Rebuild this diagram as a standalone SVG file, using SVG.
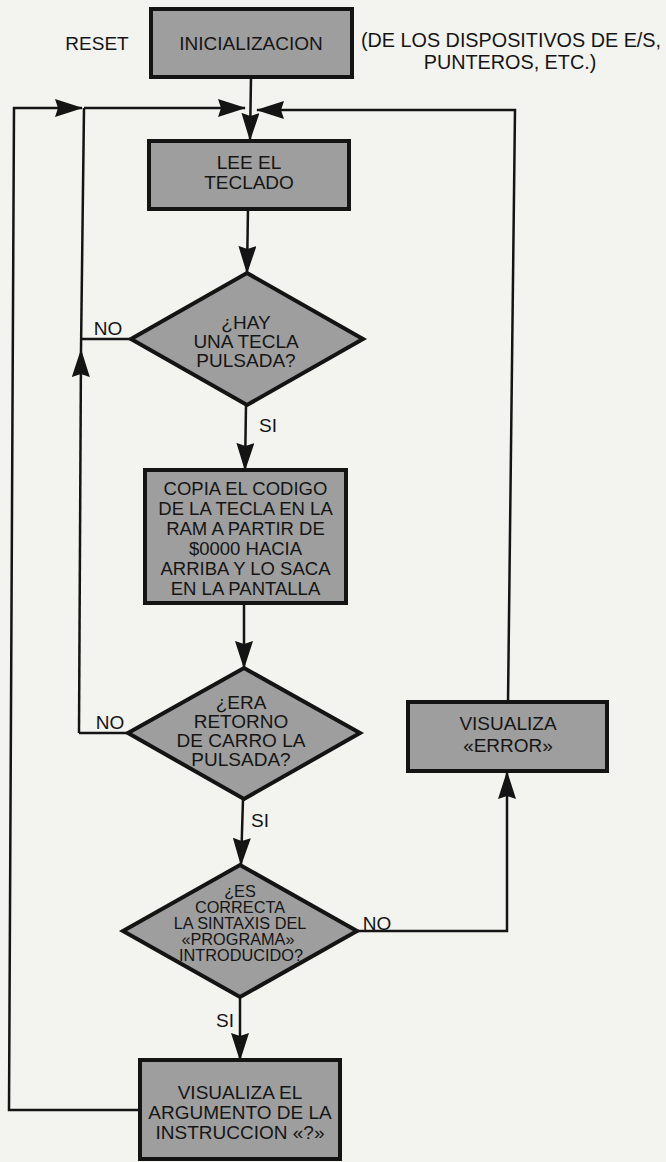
<svg xmlns="http://www.w3.org/2000/svg" width="666" height="1162" viewBox="0 0 666 1162">
<style>
.box{fill:#9e9e9e;stroke:#141414;stroke-width:4}
.t{font-family:"Liberation Sans",Arial,sans-serif;font-size:19px;fill:#151515;text-anchor:middle}
.m{font-size:18.5px}
.s{font-size:16.3px}
.c{fill:none;stroke:#141414;stroke-width:2.5}
.a{marker-end:url(#arr)}
</style>
<defs>
<marker id="arr" viewBox="0 0 28 18" refX="27" refY="9" markerWidth="28" markerHeight="18" markerUnits="userSpaceOnUse" orient="auto">
<path d="M0,0 L28,9 L0,18 L3,9 z" fill="#141414"/>
</marker>
</defs>
<rect width="666" height="1162" fill="#f3f3f0"/>

<g id="connectors">
<path class="c a" d="M251,77 L250,140"/>
<path class="c a" d="M140,1110 L9,1110 L14,108 L82,108"/>
<path class="c a" d="M84,108 L245,108"/>
<path class="c a" d="M508,702 L515,110 L257,110"/>
<path class="c a" d="M79,733 L81,350"/>
<path class="c" d="M81,350 L84,108"/>
<path class="c" d="M131,339 L81,339"/>
<path class="c" d="M128,733 L79,733"/>
<path class="c a" d="M248,209 L247,273"/>
<path class="c a" d="M246,405 L245,470"/>
<path class="c a" d="M244,603 L244,668"/>
<path class="c a" d="M243,799 L241,865"/>
<path class="c a" d="M240,997 L240,1060"/>
<path class="c a" d="M357,931 L507,931 L507,772"/>
</g>

<g id="reset-label"><text class="t" x="97" y="50">RESET</text></g>
<g id="init">
<rect class="box" x="151" y="9" width="201" height="68"/>
<text class="t" x="251" y="50">INICIALIZACION</text>
</g>
<g id="init-note">
<text class="t" x="511" y="47" style="font-size:19.8px">(DE LOS DISPOSITIVOS DE E/S,</text>
<text class="t" x="510" y="69" style="font-size:19.8px">PUNTEROS, ETC.)</text>
</g>

<g id="lee">
<rect class="box" x="149" y="141" width="200" height="68"/>
<text class="t" x="249" y="169">LEE EL</text>
<text class="t" x="249" y="189">TECLADO</text>
</g>

<g id="hay">
<polygon class="box" points="247,273 363,339 247,405 131,339"/>
<text class="t" x="246" y="329">¿HAY</text>
<text class="t" x="246" y="348">UNA TECLA</text>
<text class="t" x="246" y="367">PULSADA?</text>
</g>
<g id="labels">
<text class="t" x="108" y="335">NO</text>
<text class="t" x="268" y="432">SI</text>
<text class="t" x="110" y="729">NO</text>
<text class="t" x="260" y="827">SI</text>
<text class="t" x="377" y="930">NO</text>
<text class="t" x="225" y="1027">SI</text>
</g>

<g id="copia">
<rect class="box" x="145" y="470" width="201" height="133"/>
<text class="t m" x="245.5" y="495">COPIA EL CODIGO</text>
<text class="t m" x="245.5" y="515">DE LA TECLA EN LA</text>
<text class="t m" x="245.5" y="535">RAM A PARTIR DE</text>
<text class="t m" x="245.5" y="555">$0000 HACIA</text>
<text class="t m" x="245.5" y="575">ARRIBA Y LO SACA</text>
<text class="t m" x="245.5" y="595">EN LA PANTALLA</text>
</g>

<g id="era">
<polygon class="box" points="244,668 360,733 244,799 128,733"/>
<text class="t" x="241" y="709">¿ERA</text>
<text class="t" x="241" y="728">RETORNO</text>
<text class="t" x="241" y="747">DE CARRO LA</text>
<text class="t" x="241" y="766">PULSADA?</text>
</g>

<g id="es">
<polygon class="box" points="240,865 357,931 240,997 123,931"/>
<text class="t s" x="240" y="897">¿ES</text>
<text class="t s" x="240" y="913">CORRECTA</text>
<text class="t s" x="240" y="929">LA SINTAXIS DEL</text>
<text class="t s" x="238" y="945">«PROGRAMA»</text>
<text class="t s" x="241" y="961">INTRODUCIDO?</text>
</g>

<g id="error">
<rect class="box" x="408" y="702" width="199" height="69"/>
<text class="t" x="508" y="730">VISUALIZA</text>
<text class="t" x="508" y="752">«ERROR»</text>
</g>

<g id="visualiza">
<rect class="box" x="140" y="1060" width="200" height="99"/>
<text class="t" x="240" y="1099">VISUALIZA EL</text>
<text class="t" x="240" y="1119">ARGUMENTO DE LA</text>
<text class="t" x="240" y="1139">INSTRUCCION «?»</text>
</g>
</svg>
